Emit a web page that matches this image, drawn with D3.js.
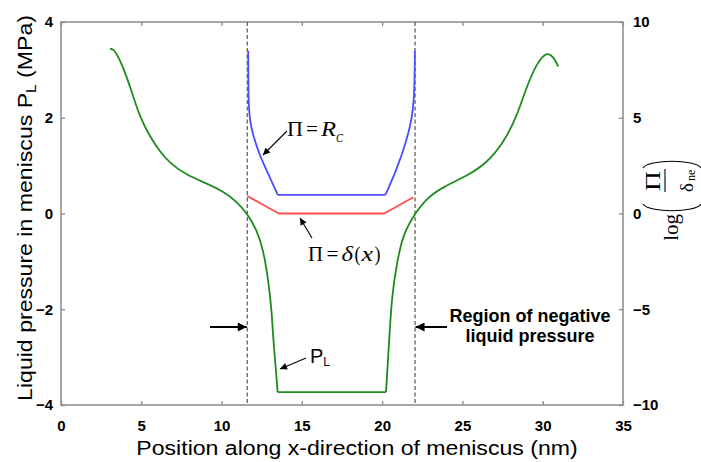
<!DOCTYPE html>
<html><head><meta charset="utf-8">
<script src="https://cdn.jsdelivr.net/npm/d3@7"></script>
<style>
body{margin:0;background:#fff;}
svg{display:block;}
</style></head>
<body>
<svg id="chart" width="701" height="462"></svg>
<script>
// ---- data ----
const xTicks = [0, 5, 10, 15, 20, 25, 30, 35];
const leftTicks = [-4, -2, 0, 2, 4];
const rightTicks = [-10, -5, 0, 5, 10];

// liquid pressure P_L (MPa, left axis)
const plX = [3.05, 3.26, 3.67, 4.09, 4.50, 4.92, 5.54, 6.17, 6.79, 7.83, 9.07, 10.11, 10.94, 11.6, 12.19, 12.6, 12.91, 13.12, 13.22, 13.39, 13.49,
             20.24, 20.38, 20.59, 20.91, 21.32, 22.05, 22.77, 23.81, 25.27, 26.51, 27.55, 28.38, 29.0, 29.63, 30.25, 30.66, 30.97];
const plY = [3.43, 3.45, 3.21, 2.86, 2.44, 2.02, 1.60, 1.29, 1.05, 0.80, 0.63, 0.46, 0.25, 0.0, -0.34, -0.76, -1.39, -2.02, -2.64, -3.27, -3.73,
             -3.73, -2.99, -1.74, -1.04, -0.41, 0.0, 0.32, 0.56, 0.78, 1.05, 1.47, 2.02, 2.65, 3.14, 3.38, 3.28, 3.07];
// Pi = R_C (right axis)
const rcX = [11.66, 11.67, 11.69, 11.78, 11.92, 12.33, 12.70, 13.5, 20.2, 20.9, 21.53, 21.84, 21.98, 22.02, 22.04];
const rcY = [8.5, 6.5, 5.6, 4.8, 4.2, 3.14, 2.44, 0.97, 0.97, 2.27, 3.84, 4.88, 5.93, 7.0, 8.5];
// Pi = delta(x) (right axis)
const dX = [11.6, 13.57, 20.13, 21.94];
const dY = [0.91, 0.0, 0.0, 0.85];
// region boundaries (nm)
const bounds = [11.6, 22.05];

// ---- layout ----
const L = 61, R = 623, T = 22, B = 405;
const svg = d3.select("#chart");
const x = d3.scaleLinear().domain([0, 35]).range([L, R]);
const yL = d3.scaleLinear().domain([-4, 4]).range([B, T]);
const yR = d3.scaleLinear().domain([-10, 10]).range([B, T]);

const axisCol = "#8a8a8a";
const tickFont = "bold 15px 'Liberation Sans', Arial, sans-serif";

function styleAxis(g) {
  g.select(".domain").remove();
  g.selectAll(".tick line").attr("stroke", axisCol).attr("stroke-width", 1.3);
  g.selectAll(".tick text").style("font", tickFont).attr("fill", "#000");
}
svg.append("g").attr("transform", `translate(0,${B})`)
  .call(d3.axisBottom(x).tickValues(xTicks).tickSize(-4).tickPadding(15).tickFormat(d3.format("d")))
  .call(styleAxis);
svg.append("g").attr("transform", `translate(0,${T})`)
  .call(d3.axisTop(x).tickValues(xTicks).tickSize(-4).tickFormat(""))
  .call(styleAxis);
svg.append("g").attr("transform", `translate(${L},0)`)
  .call(d3.axisLeft(yL).tickValues(leftTicks).tickSize(-4).tickPadding(8).tickFormat(d3.format("d")))
  .call(styleAxis);
svg.append("g").attr("transform", `translate(${R},0)`)
  .call(d3.axisRight(yR).tickValues(rightTicks).tickSize(-4).tickPadding(10).tickFormat(d3.format("d")))
  .call(styleAxis);

svg.append("rect").attr("x", L).attr("y", T).attr("width", R - L).attr("height", B - T)
  .attr("fill", "none").attr("stroke", axisCol).attr("stroke-width", 1.5);

// dashed boundaries
svg.selectAll(".bnd").data(bounds).enter().append("line")
  .attr("x1", d => x(d)).attr("x2", d => x(d)).attr("y1", T).attr("y2", B)
  .attr("stroke", "#555").attr("stroke-width", 1.2).attr("stroke-dasharray", "4,2.5");

// draw a series split at given indices (sharp corners), smooth within pieces
function drawSeries(xs, ys, yScale, color, breaks, curve) {
  const pts = xs.map((v, i) => [v, ys[i]]);
  const idx = [0, ...breaks, pts.length - 1];
  const line = d3.line().x(d => x(d[0])).y(d => yScale(d[1])).curve(curve);
  for (let k = 0; k < idx.length - 1; k++) {
    const seg = pts.slice(idx[k], idx[k + 1] + 1);
    svg.append("path").attr("d", line(seg)).attr("fill", "none")
      .attr("stroke", color).attr("stroke-width", 1.8).attr("stroke-linejoin", "round");
  }
}
drawSeries(rcX, rcY, yR, "#4d4dff", [7, 8], d3.curveBasis);
drawSeries(dX, dY, yR, "#ff4d4d", [], d3.curveLinear);
drawSeries(plX, plY, yL, "#1f8c1f", [20, 21], d3.curveBasis);

// arrow markers
const defs = svg.append("defs");
defs.append("marker").attr("id", "ah").attr("viewBox", "0 0 10 10").attr("refX", 10).attr("refY", 5)
  .attr("markerWidth", 9).attr("markerHeight", 7).attr("markerUnits", "userSpaceOnUse").attr("orient", "auto")
  .append("path").attr("d", "M0,0 L10,5 L0,10 Z").attr("fill", "#000");
defs.append("marker").attr("id", "ahb").attr("viewBox", "0 0 10 10").attr("refX", 10).attr("refY", 5)
  .attr("markerWidth", 12).attr("markerHeight", 9).attr("markerUnits", "userSpaceOnUse").attr("orient", "auto")
  .append("path").attr("d", "M0,0 L10,5 L0,10 Z").attr("fill", "#000");

function arrow(x1, y1, x2, y2, big) {
  svg.append("line").attr("x1", x1).attr("y1", y1).attr("x2", x2).attr("y2", y2)
    .attr("stroke", "#000").attr("stroke-width", big ? 2 : 1.1)
    .attr("marker-end", big ? "url(#ahb)" : "url(#ah)");
}
arrow(210, 327, x(bounds[0]) - 0.5, 327, true);
arrow(447, 327, x(bounds[1]) + 0.5, 327, true);
arrow(287, 131, 263, 155, false);
arrow(312, 238, 300, 218, false);
arrow(306, 358, 280, 369, false);

const serif = "'Liberation Serif', 'Times New Roman', serif";
const sans = "'Liberation Sans', Arial, sans-serif";

function glyph(g, str, gx, gy, opts) {
  const t = g.append("text").attr("x", gx).attr("y", gy).text(str);
  if (opts.len) t.attr("textLength", opts.len).attr("lengthAdjust", "spacingAndGlyphs");
  if (opts.italic) t.style("font-style", "italic");
  if (opts.size) t.style("font-size", opts.size + "px");
  return t;
}

// Pi = R_C
const t1 = svg.append("g").style("font-family", serif).style("font-size", "20px");
glyph(t1, "Π", 287, 136, {len: 16});
glyph(t1, "=", 306, 136, {len: 12});
glyph(t1, "R", 321, 136, {italic: true, len: 15});
glyph(t1, "C", 336, 142, {italic: true, size: 12, len: 7});

// Pi = delta(x)
const t2 = svg.append("g").style("font-family", serif).style("font-size", "20px");
glyph(t2, "Π", 308, 261, {len: 15});
glyph(t2, "=", 326.5, 261, {len: 12});
glyph(t2, "δ", 341.5, 261, {italic: true, size: 21, len: 11.5});
glyph(t2, "(", 354.5, 261, {len: 6});
glyph(t2, "x", 361.5, 261, {italic: true, size: 21, len: 11.5});
glyph(t2, ")", 374.5, 261, {len: 6});

// P_L
const t3 = svg.append("text").attr("x", 310).attr("y", 363).style("font-family", sans).style("font-size", "20px");
t3.append("tspan").text("P");
t3.append("tspan").attr("dy", 3).style("font-size", "12px").text("L");

// Region label
const reg = svg.append("text").attr("text-anchor", "middle").style("font-family", sans)
  .style("font-size", "18px").style("font-weight", "bold");
reg.append("tspan").attr("x", 530).attr("y", 322).text("Region of negative");
reg.append("tspan").attr("x", 530).attr("y", 342).text("liquid pressure");

// x label
svg.append("text").attr("transform", "translate(357,455) scale(1.1,1)").attr("text-anchor", "middle")
  .style("font-family", sans).style("font-size", "21px").text("Position along x-direction of meniscus (nm)");

// left y label
const yl = svg.append("text").attr("transform", "translate(32,208) rotate(-90) scale(1.1,1)")
  .attr("text-anchor", "middle").style("font-family", sans).style("font-size", "21px");
yl.append("tspan").text("Liquid pressure in meniscus P");
yl.append("tspan").attr("dy", 4).style("font-size", "14px").text("L");
yl.append("tspan").attr("dy", -4).text(" (MPa)");

// right y label: log(Pi / delta_ne)
const rg = svg.append("g").attr("transform", "translate(670,190) rotate(-90)").style("font-family", serif);
rg.append("text").attr("x", -24).attr("y", 8).attr("text-anchor", "end").style("font-size", "21px").text("log");
rg.append("path").attr("d", "M-14,-27 C-23,-22 -23,26 -14,31").attr("fill", "none").attr("stroke", "#000").attr("stroke-width", 1.1);
rg.append("path").attr("d", "M22,-27 C31,-22 31,26 22,31").attr("fill", "none").attr("stroke", "#000").attr("stroke-width", 1.1);
rg.append("text").attr("x", -1).attr("y", -10).attr("textLength", 20).attr("lengthAdjust", "spacingAndGlyphs")
  .style("font-size", "20px").text("Π");
rg.append("line").attr("x1", -2).attr("x2", 21).attr("y1", -5).attr("y2", -5).attr("stroke", "#000").attr("stroke-width", 1.1);
rg.append("text").attr("x", -2).attr("y", 23).style("font-size", "19px").text("δ");
rg.append("text").attr("x", 9).attr("y", 25).style("font-size", "12px").text("ne");
</script>
</body></html>
